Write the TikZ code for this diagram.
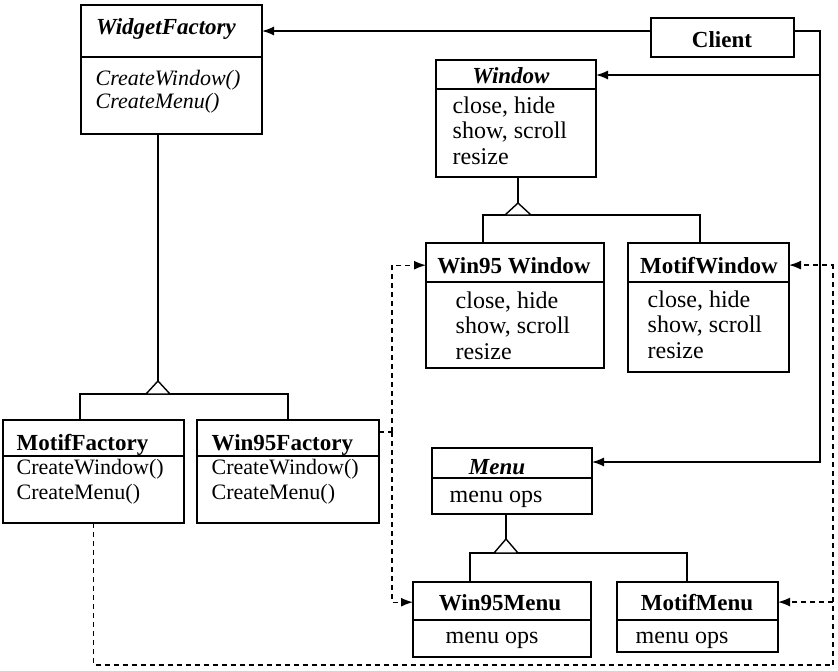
\documentclass[tikz,border=0pt]{standalone}
\usepackage{fontspec}
\setmainfont{Liberation Serif}
\usetikzlibrary{arrows.meta}

\begin{document}
\begin{tikzpicture}[x=1pt,y=-1pt,>={Latex[length=12pt,width=9pt]},line width=1.4pt,
    classbox/.style={draw,inner sep=0pt,outer sep=0pt,anchor=north west},
    classname/.style={font=\fontsize{23}{26}\selectfont\bfseries,inner sep=0pt,anchor=base},
    ops/.style={font=\fontsize{24}{25.5}\selectfont,inner sep=0pt,anchor=base west,align=left},
    dep/.style={dash pattern=on 5pt off 4pt},
    tri/.style={fill=white}]

  \useasboundingbox (0,0) rectangle (838,670);

  % class boxes
  \node[classbox,minimum width=181,minimum height=129] (wf) at (81,5) {};
  \node[classbox,minimum width=143,minimum height=39] (client) at (651,18) {};
  \node[classbox,minimum width=160,minimum height=117] (win) at (436,60) {};
  \node[classbox,minimum width=178,minimum height=125] (w95w) at (426,243) {};
  \node[classbox,minimum width=161,minimum height=129] (mw) at (628,243) {};
  \node[classbox,minimum width=181,minimum height=103] (mf) at (3,420) {};
  \node[classbox,minimum width=182,minimum height=103] (w95f) at (197,420) {};
  \node[classbox,minimum width=160,minimum height=66] (menu) at (432,448) {};
  \node[classbox,minimum width=178,minimum height=75] (w95m) at (413,582) {};
  \node[classbox,minimum width=161,minimum height=70] (mm) at (617,582) {};

  \foreach \b/\y in {wf/57,win/89,w95w/282,mw/282,mf/456,w95f/456,menu/478,w95m/620,mm/620}
    \draw (\b.west |- 0,\y) -- (\b.east |- 0,\y);

  % texts (a multi-line node sits on its last line)
  \node[classname] (wf-name) at (166,34) {\itshape WidgetFactory};
  \node[ops,font=\fontsize{22}{23}\selectfont\itshape] (wf-ops) at (95,108) {CreateWindow()\\CreateMenu()};
  \node[classname] (client-name) at (722,47) {Client};
  \node[classname] (win-name) at (511,83) {\itshape Window};
  \node[ops] (win-ops) at (452,164) {close, hide\\show, scroll\\resize};
  \node[classname] (w95w-name) at (514,273) {Win95 Window};
  \node[ops] (w95w-ops) at (455,359) {close, hide\\show, scroll\\resize};
  \node[classname] (mw-name) at (709,273) {MotifWindow};
  \node[ops] (mw-ops) at (647,358) {close, hide\\show, scroll\\resize};
  \node[classname,anchor=base west] (mf-name) at (16,450) {MotifFactory};
  \node[ops,font=\fontsize{22}{25}\selectfont] (mf-ops) at (16,499) {CreateWindow()\\CreateMenu()};
  \node[classname,anchor=base west] (w95f-name) at (211,450) {Win95Factory};
  \node[ops,font=\fontsize{22}{25}\selectfont] (w95f-ops) at (211,499) {CreateWindow()\\CreateMenu()};
  \node[classname] (menu-name) at (497,474) {\itshape Menu};
  \node[ops] (menu-ops) at (449,502) {menu ops};
  \node[classname] (w95m-name) at (500,610) {Win95Menu};
  \node[ops] (w95m-ops) at (445,643) {menu ops};
  \node[classname] (mm-name) at (697,610) {MotifMenu};
  \node[ops] (mm-ops) at (635,643) {menu ops};

  % client associations
  \coordinate (bus) at (820,31);
  \draw[->] (client.west |- bus) -- (wf.east |- bus);
  \draw[->] (client.east |- bus) -- (bus) |- (menu.east |- 0,462);
  \draw[->] (bus |- 0,75) -- (win.east |- 0,75);

  % inheritance
  \draw (wf.south -| 158,0) -- (158,381);
  \draw (mf.north -| 80,0) -- (80,394) -| (w95f.north);
  \draw[tri] (158,381) -- (146,394) -- (170,394) -- cycle;

  \draw (win.south -| 518,0) -- (518,203);
  \draw (w95w.north -| 483,0) -- (483,215) -| (mw.north -| 700,0);
  \draw[tri] (518,203) -- (505,215) -- (531,215) -- cycle;

  \draw (menu.south -| 506,0) -- (506,539);
  \draw (w95m.north -| 470,0) -- (470,553) -| (mm.north -| 687,0);
  \draw[tri] (506,539) -- (494,553) -- (518,553) -- cycle;

  % creates
  \coordinate (jw) at (392,432);
  \draw[dep] (w95f.east |- jw) -- (jw);
  \draw[dep,->] (jw) |- (w95w.west |- w95w-name);
  \draw[dep,->] (jw) |- (w95m.west |- w95m-name);
  \coordinate (jm) at (833,665);
  \draw[dep,->] (mf.south) |- (jm) |- (mw.east |- mw-name);
  \draw[dep,->] (jm |- mm-name) -- (mm.east |- mm-name);

\end{tikzpicture}
\end{document}
